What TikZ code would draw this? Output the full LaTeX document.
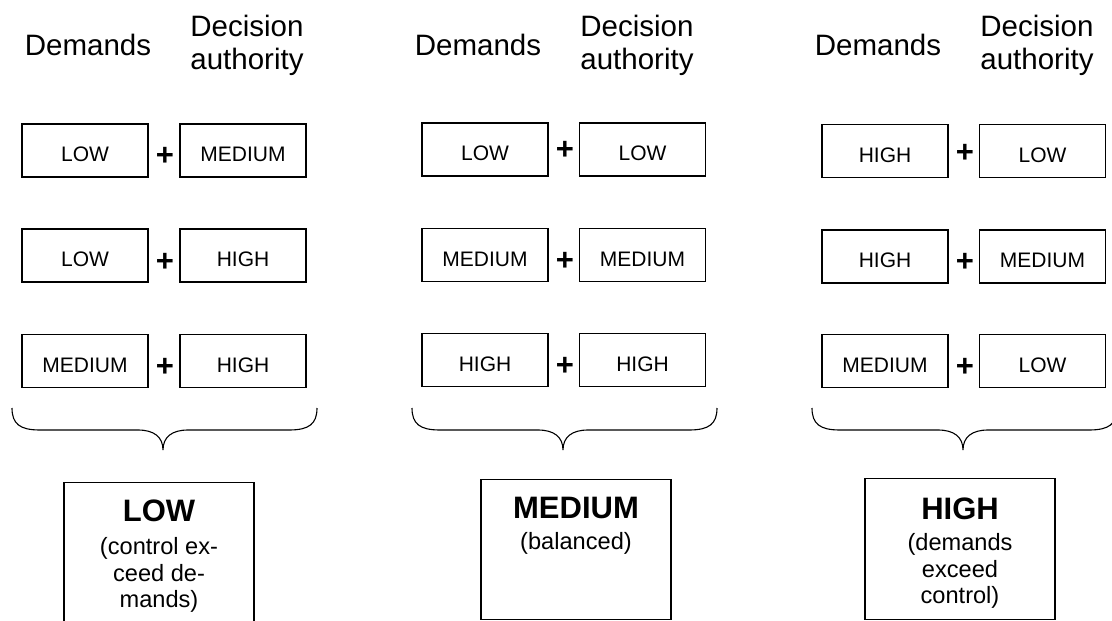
\documentclass[tikz,border=0pt]{standalone}
\usepackage{fontspec}
\setmainfont{Liberation Sans}
\begin{document}
\begin{tikzpicture}[x=1pt,y=-1pt,
  hdr/.style={font=\fontsize{29.5}{33.5}\selectfont, align=center, inner sep=0pt},
  cell/.style={draw, line width=1.1pt, minimum width=126pt, minimum height=53pt, inner sep=0pt,
    font=\fontsize{21}{25}\selectfont, text height=22.4pt, text depth=0pt},
  plus/.style={font=\bfseries\fontsize{31}{31}\selectfont, inner sep=0pt, yshift=-3pt},
  resbox/.style={draw, line width=1.1pt, minimum width=190pt, inner sep=0pt, anchor=north},
  restitle/.style={font=\bfseries\fontsize{31}{31}\selectfont, inner sep=0pt, anchor=north},
  resnote/.style={font=\fontsize{23.6}{26.8}\selectfont, align=center, inner sep=0pt, anchor=north},
  bracepath/.style={line width=1.1pt}]
\useasboundingbox (0,0) rectangle (1112,621);

% ---------- headers ----------
\node[hdr, anchor=base] (dem1) at (88,56) {Demands};
\node[hdr, anchor=north] (dec1) at (247,14.5) {Decision\\authority};
\node[hdr, anchor=base] (dem2) at (478,56) {Demands};
\node[hdr, anchor=north] (dec2) at (637,14.5) {Decision\\authority};
\node[hdr, anchor=base] (dem3) at (878,56) {Demands};
\node[hdr, anchor=north] (dec3) at (1037,14.5) {Decision\\authority};

% ---------- column 1 ----------
\node[cell] (a11) at (85,150.5) {LOW};
\node[cell] (b11) at (243,150.5) {MEDIUM};
\node[plus] (p11) at (165,153) {+};
\node[cell] (a12) at (85,255.5) {LOW};
\node[cell] (b12) at (243,255.5) {HIGH};
\node[plus] (p12) at (165,259) {+};
\node[cell] (a13) at (85,361) {MEDIUM};
\node[cell] (b13) at (243,361) {HIGH};
\node[plus] (p13) at (165,364) {+};

% ---------- column 2 ----------
\node[cell] (a21) at (485,149.5) {LOW};
\node[cell] (b21) at (642.5,149.5) {LOW};
\node[plus] (p21) at (565,147) {+};
\node[cell] (a22) at (485,255) {MEDIUM};
\node[cell] (b22) at (642.5,255) {MEDIUM};
\node[plus] (p22) at (565,258) {+};
\node[cell] (a23) at (485,360) {HIGH};
\node[cell] (b23) at (642.5,360) {HIGH};
\node[plus] (p23) at (565,363) {+};

% ---------- column 3 ----------
\node[cell] (a31) at (885,151) {HIGH};
\node[cell] (b31) at (1042.5,151) {LOW};
\node[plus] (p31) at (965,150) {+};
\node[cell] (a32) at (885,256.5) {HIGH};
\node[cell] (b32) at (1042.5,256.5) {MEDIUM};
\node[plus] (p32) at (965,259) {+};
\node[cell] (a33) at (885,361) {MEDIUM};
\node[cell] (b33) at (1042.5,361) {LOW};
\node[plus] (p33) at (965,364) {+};

% ---------- braces ----------
\foreach \dx in {0,400,800}{
  \draw[bracepath] (12+\dx,408) .. controls (12+\dx,424) and (20+\dx,430) .. (40+\dx,430)
    -- (138+\dx,430) .. controls (154+\dx,430) and (163+\dx,437) .. (163+\dx,450)
    .. controls (163+\dx,437) and (172+\dx,430) .. (188+\dx,430)
    -- (289+\dx,430) .. controls (309+\dx,430) and (317+\dx,424) .. (317+\dx,408);
}

% ---------- result boxes ----------
\node[resbox, minimum height=165pt] (r1) at (159,482) {};
\node[restitle] (r1t) at (159,500) {LOW};
\node[resnote] (r1n) at (159,537) {(control ex-\\ceed de-\\mands)};

\node[resbox, minimum height=140pt] (r2) at (576,479) {};
\node[restitle] (r2t) at (576,497) {MEDIUM};
\node[resnote] (r2n) at (576,532) {(balanced)};

\node[resbox, minimum height=141pt] (r3) at (960,478) {};
\node[restitle] (r3t) at (960,498) {HIGH};
\node[resnote] (r3n) at (960,533) {(demands\\exceed\\control)};
\end{tikzpicture}
\end{document}
